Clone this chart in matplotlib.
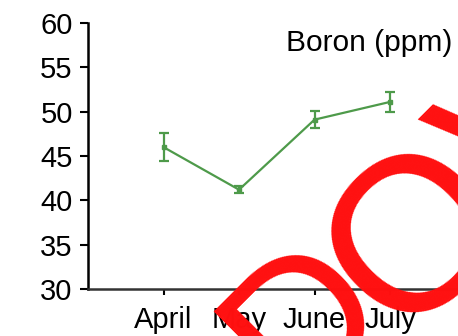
import matplotlib
matplotlib.use("Agg")
import matplotlib.pyplot as plt

plt.rcParams['font.family'] = ['Liberation Sans', 'DejaVu Sans']

# boron readings per month (ppm) with standard error
months = ['April', 'May', 'June', 'July']
boron = [46.0, 41.2, 49.1, 51.1]
boron_err = [1.6, 0.4, 0.95, 1.1]
yticks = [30, 35, 40, 45, 50, 55, 60]

fig = plt.figure(figsize=(4.58, 3.36), dpi=100)
ax = fig.add_axes([88 / 458, 1 - 289 / 336, 1 - 88 / 458, (289 - 23) / 336])

x = list(range(1, len(months) + 1))
ax.errorbar(x, boron, yerr=boron_err, color='#4e9a4a', lw=1.6,
            elinewidth=1.6, capsize=3.5, capthick=1.6, marker='s', ms=3)

ax.set_xlim(0, 4.9)
ax.set_ylim(30, 60)
ax.set_yticks(yticks)
ax.set_xticks(x)
ax.set_xticklabels(months)
ax.tick_params(axis='y', labelsize=21, length=6, width=1.5, pad=5)
ax.tick_params(axis='x', labelsize=21, length=4, width=1.5, pad=8)
ax.spines['top'].set_visible(False)
ax.spines['right'].set_visible(False)
ax.spines['left'].set_linewidth(1.8)
ax.spines['bottom'].set_linewidth(1.8)
ax.spines['bottom'].set_color('#333333')

fig.text(286 / 458, 1 - 43 / 336, 'Boron (ppm)', fontsize=21.5,
         ha='left', va='center')

# red stamp across the lower right, letters set one by one
stamp = dict(color='#ff1010', rotation=45, rotation_mode='anchor',
             ha='left', va='baseline')
fig.text(293 / 458, 1 - 406 / 336, 'D', fontsize=140, **stamp)
fig.text(401 / 458, 1 - 340 / 336, 'OVE', fontsize=158, **stamp)

fig.savefig('out.png', dpi=100)
